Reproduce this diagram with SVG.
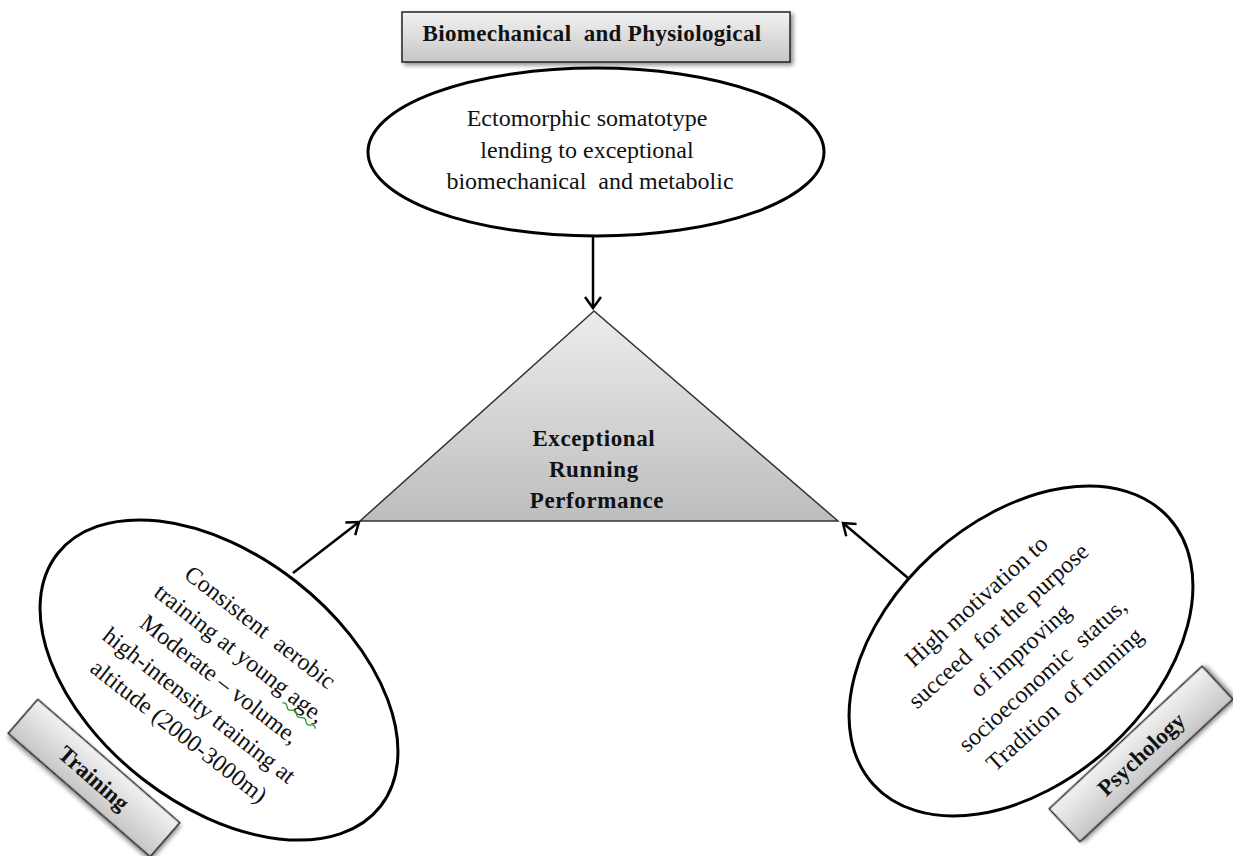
<svg xmlns="http://www.w3.org/2000/svg" width="1233" height="856" viewBox="0 0 1233 856">
<style>
.t{font-family:"Liberation Serif","Times New Roman",serif;fill:#111;}
.r{font-size:24px;}
.b{font-size:23px;font-weight:bold;}
.ell{fill:#fff;stroke:#000;stroke-width:3;}
.box{stroke:#222;stroke-width:1.5;}
.con{stroke:#000;stroke-width:2.5;fill:none;}
</style>
<defs>
<linearGradient id="gbox" x1="0" y1="0" x2="0" y2="1">
<stop offset="0" stop-color="#f2f2f2"/>
<stop offset="1" stop-color="#c6c6c6"/>
</linearGradient>
<linearGradient id="gtri" x1="0" y1="0" x2="0" y2="1">
<stop offset="0" stop-color="#ececec"/>
<stop offset="1" stop-color="#bdbdbd"/>
</linearGradient>
<filter id="sh" x="-20%" y="-40%" width="140%" height="180%">
<feDropShadow dx="2.5" dy="2.5" stdDeviation="2" flood-color="#000" flood-opacity="0.45"/>
</filter>
<marker id="ah" markerUnits="userSpaceOnUse" markerWidth="30" markerHeight="30" viewBox="-15 -15 30 30" refX="0" refY="0" orient="auto">
<path d="M-11,-8 L0,0 L-11,8" fill="none" stroke="#000" stroke-width="2.5"/>
</marker>
</defs>

<g id="node-biomech-label">
<rect x="402" y="12" width="388" height="50" fill="url(#gbox)" class="box" filter="url(#sh)"/>
<text class="t b" x="592" y="41" text-anchor="middle" letter-spacing="0.35" xml:space="preserve">Biomechanical  and Physiological</text>
</g>

<g id="node-biomech">
<ellipse cx="596" cy="152" rx="228" ry="84" class="ell"/>
<text class="t r" text-anchor="middle">
<tspan x="590" y="126">Ectomorphic somatotype</tspan>
<tspan x="590" y="157.5">lending to exceptional</tspan>
<tspan x="590" y="189" xml:space="preserve">biomechanical  and metabolic</tspan>
</text>
</g>

<g id="node-performance">
<polygon points="594,311 360,521 838,521" fill="url(#gtri)" stroke="#333" stroke-width="1.5"/>
<text class="t b" text-anchor="middle" letter-spacing="0.6">
<tspan x="597" y="446">Exceptional</tspan>
<tspan x="597" y="477">Running</tspan>
<tspan x="597" y="508">Performance</tspan>
</text>
</g>

<g id="node-training">
<g transform="translate(219,680) rotate(38)">
<ellipse cx="0" cy="0" rx="205" ry="125" class="ell"/>
<text class="t r" text-anchor="middle" xml:space="preserve"><tspan x="0" y="-59">Consistent  aerobic</tspan><tspan x="0" y="-26">training at young age,</tspan><tspan x="0" y="7">Moderate – volume,</tspan><tspan x="0" y="40">high-intensity training at</tspan><tspan x="0" y="73">altitude (2000-3000m)</tspan></text>
<path d="M64,-21 q3,-3 6,0 t6,0 t6,0 t6,0 t6,0 t6,0 t6,0" fill="none" stroke="#2a9a2a" stroke-width="1.3"/>
</g>
</g>

<g id="node-training-label">
<g transform="translate(94,778) rotate(41)">
<rect x="-94" y="-22.5" width="188" height="45" fill="url(#gbox)" class="box" filter="url(#sh)"/>
<text class="t b" x="0" y="8" text-anchor="middle">Training</text>
</g>
</g>

<g id="node-psychology">
<g transform="translate(1021,651) rotate(-42)">
<ellipse cx="0" cy="0" rx="199" ry="131" class="ell"/>
<text class="t r" text-anchor="middle" xml:space="preserve"><tspan x="0" y="-59">High motivation to</tspan><tspan x="0" y="-26">succeed  for the purpose</tspan><tspan x="0" y="7">of improving</tspan><tspan x="0" y="40">socioeconomic  status,</tspan><tspan x="0" y="73">Tradition  of running</tspan></text>
</g>
</g>

<g id="node-psychology-label">
<g transform="translate(1141,754) rotate(-43)">
<rect x="-104.5" y="-22.5" width="209" height="45" fill="url(#gbox)" class="box" filter="url(#sh)"/>
<text class="t b" x="0" y="8" text-anchor="middle">Psychology</text>
</g>
</g>

<g id="connectors">
<line x1="593" y1="237" x2="593" y2="308" class="con" marker-end="url(#ah)"/>
<line x1="293" y1="573" x2="359" y2="522" class="con" marker-end="url(#ah)"/>
<line x1="908" y1="578" x2="843" y2="523" class="con" marker-end="url(#ah)"/>
</g>
</svg>
